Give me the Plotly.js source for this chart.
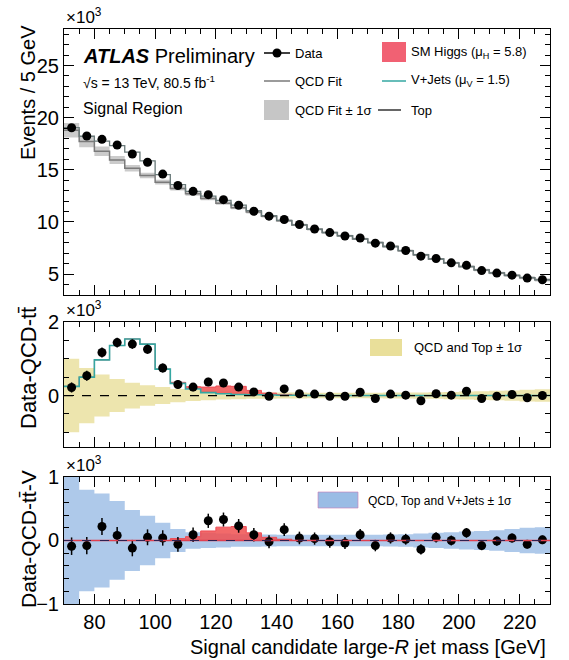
<!DOCTYPE html>
<html><head><meta charset="utf-8">
<script src="https://cdn.plot.ly/plotly-3.0.1.min.js"></script>
<style>body{margin:0;background:#fff}</style>
</head><body><div id="chart" style="width:569px;height:660px"></div>
<script>
// ---- data (values in units of 10^3 events) ----
const binEdges = [70,75,80,85,90,95,100,105,110,115,120,125,130,135,140,145,150,155,160,165,170,175,180,185,190,195,200,205,210,215,220,225,230];
const binCenters = [72.5,77.5,82.5,87.5,92.5,97.5,102.5,107.5,112.5,117.5,122.5,127.5,132.5,137.5,142.5,147.5,152.5,157.5,162.5,167.5,172.5,177.5,182.5,187.5,192.5,197.5,202.5,207.5,212.5,217.5,222.5,227.5];
const dataEvents = [19.03,18.24,17.92,17.38,16.52,15.73,14.59,13.50,12.94,12.62,12.14,11.60,11.03,10.56,10.24,9.76,9.33,8.98,8.66,8.46,7.97,7.70,7.27,6.72,6.50,6.08,5.84,5.34,5.10,4.90,4.62,4.46];
const dataStatErr = [0.138,0.135,0.134,0.132,0.129,0.125,0.121,0.116,0.114,0.112,0.110,0.108,0.105,0.103,0.101,0.099,0.096,0.095,0.093,0.092,0.090,0.088,0.085,0.082,0.080,0.078,0.076,0.073,0.071,0.070,0.068,0.067];
const qcdFit = [18.80,17.72,16.78,15.95,15.15,14.45,13.82,13.22,12.70,12.24,11.80,11.37,10.95,10.55,10.12,9.72,9.30,8.98,8.68,8.38,8.03,7.65,7.25,6.85,6.45,6.07,5.72,5.40,5.12,4.88,4.66,4.45];
const qcdFitErr = [0.70,0.55,0.45,0.38,0.32,0.27,0.23,0.20,0.18,0.16,0.15,0.14,0.13,0.12,0.12,0.11,0.11,0.10,0.10,0.10,0.10,0.10,0.10,0.10,0.10,0.11,0.11,0.12,0.12,0.13,0.14,0.15];
const vjets = [0.25,0.50,0.97,1.36,1.54,1.40,0.72,0.33,0.18,0.08,0.05,0.03,0.02,0.015,0.01,0.01,0.005,0,0,0,0,0,0,0,0,0,0,0,0,0,0,0];
const higgs = [0,0,0,0,0,0,0,0.03,0.06,0.15,0.21,0.22,0.12,0.05,0.02,0,0,0,0,0,0,0,0,0,0,0,0,0,0,0,0,0];
const residQCDTop = [0.22,0.54,1.17,1.44,1.40,1.26,0.75,0.30,0.23,0.37,0.34,0.23,0.10,-0.02,0.18,0.05,0.04,-0.02,-0.02,0.09,-0.08,0.04,0.01,-0.14,0.05,0.01,0.12,-0.08,-0.02,0.03,-0.06,0.00];
const qcdTopErr = [1.00,0.75,0.57,0.45,0.35,0.28,0.23,0.18,0.15,0.13,0.11,0.10,0.09,0.085,0.08,0.08,0.075,0.075,0.075,0.075,0.075,0.08,0.08,0.085,0.09,0.10,0.11,0.12,0.13,0.14,0.16,0.17];
const residAll = [-0.09,-0.08,0.22,0.08,-0.12,0.05,0.04,-0.06,0.09,0.31,0.33,0.23,0.09,-0.02,0.17,0.04,0.03,-0.02,-0.04,0.09,-0.08,0.04,0.02,-0.14,0.05,0.00,0.12,-0.08,-0.01,0.04,-0.06,0.01];
const allBkgErr = [1.00,0.80,0.74,0.62,0.48,0.39,0.28,0.18,0.13,0.12,0.11,0.10,0.10,0.095,0.09,0.09,0.09,0.09,0.09,0.09,0.09,0.095,0.10,0.11,0.12,0.13,0.14,0.15,0.16,0.18,0.20,0.21];

// ---- helpers ----
const FONT = 'Liberation Sans, Arial, Helvetica, sans-serif';
const step = arr => arr.concat([arr[arr.length-1]]);
const add = (a,b) => a.map((v,i)=>v+b[i]);
const sub = (a,b) => a.map((v,i)=>v-b[i]);
const neg = a => a.map(v=>-v);
const px = x => (x-64)/486;
const py = y => (604-y)/575;

const totalTop = add(add(qcdFit, vjets), higgs);
const vPlusH = add(vjets, higgs);

function stepTrace(y, xa, ya, extra){
  return Object.assign({x: binEdges, y: step(y), xaxis: xa, yaxis: ya, mode:'lines',
    line:{shape:'hv', width:1.5}, hoverinfo:'skip', showlegend:false}, extra||{});
}

const traces = [
  // top panel
  stepTrace(sub(qcdFit,qcdFitErr),'x','y',{line:{shape:'hv',width:0}}),
  stepTrace(add(qcdFit,qcdFitErr),'x','y',{line:{shape:'hv',width:0}, fill:'tonexty', fillcolor:'rgba(160,160,160,0.55)'}),
  stepTrace(qcdFit,'x','y',{line:{shape:'hv',width:1.5,color:'#7a7a7a'}}),
  stepTrace(totalTop,'x','y',{line:{shape:'hv',width:1.3,color:'#6a7a7a'}}),
  {x: binCenters, y: dataEvents, xaxis:'x', yaxis:'y', mode:'markers', type:'scatter',
   marker:{color:'black', size:9}, error_y:{type:'data', array:dataStatErr, color:'black', thickness:1.5, width:0}, showlegend:false},
  // middle panel
  stepTrace(neg(qcdTopErr),'x2','y2',{line:{shape:'hv',width:0}}),
  stepTrace(qcdTopErr,'x2','y2',{line:{shape:'hv',width:0}, fill:'tonexty', fillcolor:'rgba(225,212,120,0.6)'}),
  stepTrace(vjets,'x2','y2',{line:{shape:'hv',width:0}}),
  stepTrace(vPlusH,'x2','y2',{line:{shape:'hv',width:1,color:'#ee4b55'}, fill:'tonexty', fillcolor:'rgba(240,80,80,0.85)'}),
  stepTrace(vjets,'x2','y2',{line:{shape:'hv',width:1.6,color:'#35a7a2'}}),
  {x: binCenters, y: residQCDTop, xaxis:'x2', yaxis:'y2', mode:'markers', type:'scatter',
   marker:{color:'black', size:9}, error_y:{type:'data', array:dataStatErr, color:'black', thickness:1.5, width:0}, showlegend:false},
  // bottom panel
  stepTrace(neg(allBkgErr),'x3','y3',{line:{shape:'hv',width:0}}),
  stepTrace(allBkgErr,'x3','y3',{line:{shape:'hv',width:0}, fill:'tonexty', fillcolor:'rgba(120,165,220,0.6)'}),
  stepTrace(higgs,'x3','y3',{line:{shape:'hv',width:1,color:'#ee4b55'}, fill:'tozeroy', fillcolor:'rgba(240,80,80,0.85)'}),
  {x: binCenters, y: residAll, xaxis:'x3', yaxis:'y3', mode:'markers', type:'scatter',
   marker:{color:'black', size:9}, error_y:{type:'data', array:dataStatErr, color:'black', thickness:1.5, width:0}, showlegend:false}
];

const axBase = {showline:true, linecolor:'black', linewidth:1, mirror:'allticks', ticks:'inside', ticklen:10, tickcolor:'black', tickwidth:1,
  showgrid:false, zeroline:false, tickfont:{family:FONT, size:20, color:'black'}};
const xBase = Object.assign({}, axBase, {range:[70,230], tick0:0, dtick:20, minor:{ticks:'inside', ticklen:5, dtick:5, tick0:0, tickcolor:'black', showgrid:false}});

const layout = {
  width:569, height:660, margin:{l:64, r:19, t:29, b:56},
  paper_bgcolor:'white', plot_bgcolor:'white', showlegend:false,
  font:{family:FONT, color:'black'},
  xaxis: Object.assign({}, xBase, {anchor:'y', showticklabels:false}),
  xaxis2: Object.assign({}, xBase, {anchor:'y2', showticklabels:false, matches:'x'}),
  xaxis3: Object.assign({}, xBase, {anchor:'y3', showticklabels:true, matches:'x'}),
  yaxis: Object.assign({}, axBase, {domain:[0.5374,1], range:[3.0,28.5], tick0:0, dtick:5,
     minor:{ticks:'inside', ticklen:5, dtick:1, tick0:0, tickcolor:'black', showgrid:false}}),
  yaxis2: Object.assign({}, axBase, {domain:[0.273,0.4904], range:[-1.4,2.0], tick0:0, dtick:2,
     minor:{ticks:'inside', ticklen:5, dtick:0.5, tick0:0, tickcolor:'black', showgrid:false}}),
  yaxis3: Object.assign({}, axBase, {domain:[0,0.2209], range:[-1,1], tick0:0, dtick:1,
     minor:{ticks:'inside', ticklen:5, dtick:0.2, tick0:0, tickcolor:'black', showgrid:false}}),
  shapes: [
    {type:'line', xref:'x2 domain', yref:'y2', x0:0, x1:1, y0:0, y1:0, line:{color:'black', width:1.2, dash:'dash'}, layer:'above'},
    {type:'line', xref:'x3 domain', yref:'y3', x0:0, x1:1, y0:0, y1:0, line:{color:'#e04050', width:1.5}, layer:'above'},
    {type:'line', xref:'x3 domain', yref:'y3', x0:0, x1:1, y0:0, y1:0, line:{color:'#302050', width:1.2, dash:'dash'}, layer:'above'},
    // legend symbols (top)
    {type:'line', xref:'paper', yref:'paper', x0:px(264), x1:px(290), y0:py(53), y1:py(53), line:{color:'black', width:1.5}},
    {type:'circle', xref:'paper', yref:'paper', x0:px(272.5), x1:px(281.5), y0:py(57.5), y1:py(48.5), fillcolor:'black', line:{color:'black', width:0}},
    {type:'line', xref:'paper', yref:'paper', x0:px(264), x1:px(290), y0:py(81), y1:py(81), line:{color:'#7a7a7a', width:1.5}},
    {type:'rect', xref:'paper', yref:'paper', x0:px(264), x1:px(289), y0:py(120), y1:py(100), fillcolor:'rgba(160,160,160,0.6)', line:{width:0}},
    {type:'rect', xref:'paper', yref:'paper', x0:px(382), x1:px(406), y0:py(62), y1:py(42), fillcolor:'rgba(240,80,100,0.9)', line:{width:0}},
    {type:'line', xref:'paper', yref:'paper', x0:px(382), x1:px(406), y0:py(81), y1:py(81), line:{color:'#35a7a2', width:1.5}},
    {type:'line', xref:'paper', yref:'paper', x0:px(378), x1:px(401), y0:py(110), y1:py(110), line:{color:'#333', width:1.5}},
    // middle legend
    {type:'rect', xref:'paper', yref:'paper', x0:px(370), x1:px(402), y0:py(356), y1:py(339), fillcolor:'rgba(225,212,120,0.75)', line:{width:0}},
    // bottom legend
    {type:'rect', xref:'paper', yref:'paper', x0:px(318), x1:px(358), y0:py(508), y1:py(492), fillcolor:'rgba(120,165,220,0.75)', line:{color:'rgba(200,120,180,0.6)', width:1}}
  ],
  annotations: [
    {xref:'paper', yref:'paper', x:0, y:1.0, xanchor:'left', yanchor:'bottom', text:'×10<sup>3</sup>', showarrow:false, font:{size:17}},
    {xref:'paper', yref:'paper', x:0, y:py(322), xanchor:'left', yanchor:'bottom', text:'×10<sup>3</sup>', showarrow:false, font:{size:17}},
    {xref:'paper', yref:'paper', x:0, y:py(477), xanchor:'left', yanchor:'bottom', text:'×10<sup>3</sup>', showarrow:false, font:{size:17}},
    {xref:'paper', yref:'paper', x:px(28), y:py(93), xanchor:'center', yanchor:'middle', textangle:-90, text:'Events / 5 GeV', showarrow:false, font:{size:20}},
    {xref:'paper', yref:'paper', x:px(28), y:py(368), xanchor:'center', yanchor:'middle', textangle:-90, text:'Data-QCD-tt\u0304', showarrow:false, font:{size:22}},
    {xref:'paper', yref:'paper', x:px(28), y:py(539), xanchor:'center', yanchor:'middle', textangle:-90, text:'Data-QCD-tt\u0304-V', showarrow:false, font:{size:21}},
    {xref:'paper', yref:'paper', x:px(548), y:py(647), xanchor:'right', yanchor:'middle', text:'Signal candidate large-<i>R</i> jet mass [GeV]', showarrow:false, font:{size:20}},
    {xref:'paper', yref:'paper', x:px(81), y:py(56), xanchor:'left', yanchor:'middle', text:'<b><i>ATLAS</i></b> Preliminary', showarrow:false, font:{size:20}},
    {xref:'paper', yref:'paper', x:px(81), y:py(82), xanchor:'left', yanchor:'middle', text:'\u221As = 13 TeV, 80.5 fb<sup>-1</sup>', showarrow:false, font:{size:14}},
    {xref:'paper', yref:'paper', x:px(81), y:py(109), xanchor:'left', yanchor:'middle', text:'Signal Region', showarrow:false, font:{size:16}},
    {xref:'paper', yref:'paper', x:px(293), y:py(53), xanchor:'left', yanchor:'middle', text:'Data', showarrow:false, font:{size:13}},
    {xref:'paper', yref:'paper', x:px(293), y:py(81), xanchor:'left', yanchor:'middle', text:'QCD Fit', showarrow:false, font:{size:13}},
    {xref:'paper', yref:'paper', x:px(293), y:py(110), xanchor:'left', yanchor:'middle', text:'QCD Fit \u00b1 1\u03c3', showarrow:false, font:{size:13}},
    {xref:'paper', yref:'paper', x:px(409), y:py(52), xanchor:'left', yanchor:'middle', text:'SM Higgs (\u03bc<sub>H</sub> = 5.8)', showarrow:false, font:{size:13}},
    {xref:'paper', yref:'paper', x:px(409), y:py(80), xanchor:'left', yanchor:'middle', text:'V+Jets (\u03bc<sub>V</sub> = 1.5)', showarrow:false, font:{size:13}},
    {xref:'paper', yref:'paper', x:px(409), y:py(110), xanchor:'left', yanchor:'middle', text:'Top', showarrow:false, font:{size:13}},
    {xref:'paper', yref:'paper', x:px(412), y:py(347), xanchor:'left', yanchor:'middle', text:'QCD and Top \u00b1 1\u03c3', showarrow:false, font:{size:13}},
    {xref:'paper', yref:'paper', x:px(366), y:py(501), xanchor:'left', yanchor:'middle', text:'QCD, Top and V+Jets \u00b1 1\u03c3', showarrow:false, font:{size:12}}
  ]
};

Plotly.newPlot('chart', traces, layout, {staticPlot:true, displayModeBar:false});
</script></body></html>
